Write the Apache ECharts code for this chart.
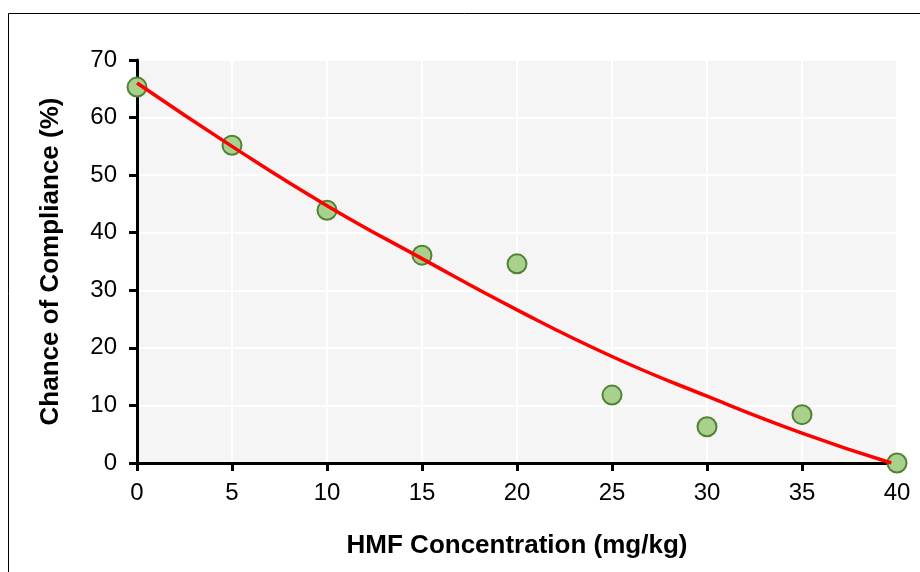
<!DOCTYPE html>
<html>
<head>
<meta charset="utf-8">
<script src="https://cdn.jsdelivr.net/npm/echarts@6/dist/echarts.min.js"></script>
<style>
  html, body { margin: 0; padding: 0; background: #fff; }
  #chart { width: 920px; height: 572px; }
</style>
</head>
<body>
<div id="chart"></div>
<script>
// measured points
var hmf = [0, 5, 10, 15, 20, 25, 30, 35, 40];
var compliance = [65.3, 55.2, 43.9, 36.1, 34.6, 11.8, 6.3, 8.4, 0];

// fitted trend line
var fitX = [0, 5, 10, 15, 20, 25, 30, 35, 39.7];
var fitY = [66, 55, 44.7, 35.5, 26.6, 18.5, 11.6, 5.2, 0];

var points = hmf.map(function (x, i) { return [x, compliance[i]]; });
var fit = fitX.map(function (x, i) { return [x, fitY[i]]; });

var chart = echarts.init(document.getElementById("chart"));

var option = {
    animation: false,
    graphic: [{
        type: "rect",
        shape: { x: 8.5, y: 13.5, width: 940, height: 600 },
        style: { fill: "none", stroke: "#000", lineWidth: 1 },
        silent: true
    }],
    grid: {
        left: 137, right: 23, top: 60, bottom: 109,
        show: true, backgroundColor: "#f5f5f5", borderWidth: 0
    },
    xAxis: {
        type: "value", min: 0, max: 40, interval: 5,
        name: "HMF Concentration (mg/kg)",
        nameLocation: "middle", nameGap: 70,
        nameTextStyle: { fontFamily: "Liberation Sans", fontWeight: "bold", fontSize: 26, color: "#000" },
        axisLine: { lineStyle: { color: "#000", width: 3 } },
        axisTick: { show: true, length: 8, lineStyle: { color: "#000", width: 3 } },
        axisLabel: { margin: 18, fontFamily: "Liberation Sans", fontSize: 24, color: "#000" },
        splitLine: { lineStyle: { color: "#fff", width: 2 } }
    },
    yAxis: {
        type: "value", min: 0, max: 70, interval: 10,
        name: "Chance of Compliance (%)",
        nameLocation: "middle", nameGap: 73,
        nameTextStyle: { fontFamily: "Liberation Sans", fontWeight: "bold", fontSize: 26, color: "#000" },
        axisLine: { show: true, lineStyle: { color: "#000", width: 3 } },
        axisTick: { show: true, length: 8, lineStyle: { color: "#000", width: 3 } },
        axisLabel: { margin: 20, fontFamily: "Liberation Sans", fontSize: 24, color: "#000" },
        splitLine: { lineStyle: { color: "#fff", width: 2 } }
    },
    series: [
        {
            type: "scatter",
            data: points,
            symbolSize: 19,
            itemStyle: { color: "#a9d18e", borderColor: "#538135", borderWidth: 2, opacity: 1 },
            z: 2
        },
        {
            type: "line",
            data: fit,
            smooth: true,
            showSymbol: false,
            lineStyle: { color: "#ff0000", width: 3.5 },
            z: 3
        }
    ]
};

chart.setOption(option);
</script>
</body>
</html>
